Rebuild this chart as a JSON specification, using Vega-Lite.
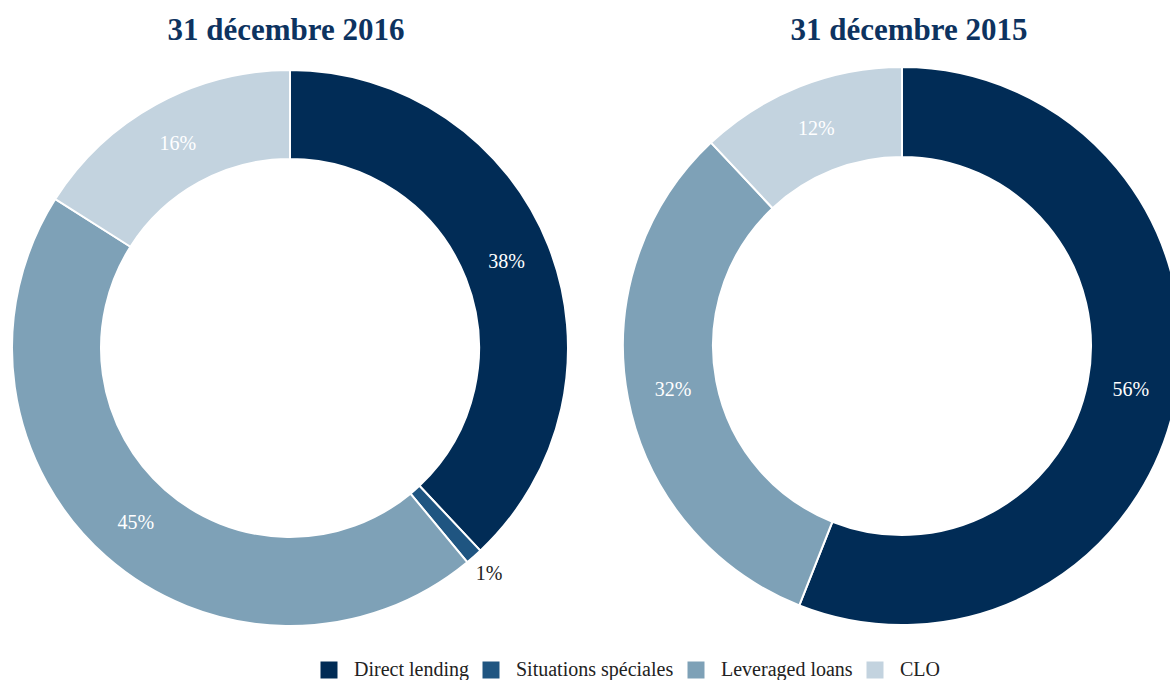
{
  "$schema": "https://vega.github.io/schema/vega-lite/v6.json",
  "padding": {"top": 15, "left": 0, "right": 0, "bottom": 0},
  "datasets": {
    "shares": [
      {"date": "2016", "cat": "Direct lending", "value": 0.38, "rank": 1},
      {"date": "2016", "cat": "Situations spéciales", "value": 0.01, "rank": 2},
      {"date": "2016", "cat": "Leveraged loans", "value": 0.45, "rank": 3},
      {"date": "2016", "cat": "CLO", "value": 0.16, "rank": 4},
      {"date": "2015", "cat": "Direct lending", "value": 0.56, "rank": 1},
      {"date": "2015", "cat": "Leveraged loans", "value": 0.32, "rank": 3},
      {"date": "2015", "cat": "CLO", "value": 0.12, "rank": 4}
    ]
  },
  "config": {
    "view": {"stroke": null},
    "font": "Liberation Serif",
    "concat": {"spacing": 32},
    "title": {"font": "Liberation Serif", "fontSize": 31, "fontWeight": "bold", "color": "#0d3360", "offset": 1, "anchor": "middle"},
    "legend": {
      "orient": "none",
      "legendX": 319,
      "legendY": 612,
      "direction": "horizontal",
      "title": null,
      "symbolType": "square",
      "symbolSize": 289,
      "symbolStrokeWidth": 0,
      "symbolOpacity": 1,
      "labelFont": "Liberation Serif",
      "labelFontSize": 20,
      "labelColor": "#222222",
      "labelOffset": 15,
      "columnPadding": 12,
      "labelLimit": 300
    }
  },
  "hconcat": [
    {
      "width": 580,
      "height": 600,
      "title": {"text": "31 décembre 2016", "dx": -4},
      "data": {"name": "shares"},
      "transform": [{"filter": "datum.date == '2016'"}],
      "encoding": {
        "theta": {"field": "value", "type": "quantitative", "stack": true},
        "order": {"field": "rank", "type": "quantitative"}
      },
      "layer": [
        {
          "mark": {"type": "arc", "innerRadius": 189, "outerRadius": 278, "stroke": "white", "strokeWidth": 2},
          "encoding": {
            "color": {
              "field": "cat", "type": "nominal",
              "scale": {"domain": ["Direct lending", "Situations spéciales", "Leveraged loans", "CLO"], "range": ["#012c56", "#1f5581", "#7ea1b7", "#c3d3df"]},
              "legend": {}
            }
          }
        },
        {
          "mark": {"type": "text", "radius": {"expr": "datum.value < 0.05 ? 301 : 233"}, "fontSize": 20, "font": "Liberation Serif"},
          "encoding": {
            "detail": {"field": "cat", "type": "nominal"},
            "text": {"field": "value", "type": "quantitative", "format": ".0%"},
            "color": {"condition": {"test": "datum.value < 0.05", "value": "#222222"}, "value": "white"}
          }
        }
      ]
    },
    {
      "width": 580,
      "height": 596,
      "title": {"text": "31 décembre 2015", "dx": 7},
      "data": {"name": "shares"},
      "transform": [{"filter": "datum.date == '2015'"}],
      "encoding": {
        "theta": {"field": "value", "type": "quantitative", "stack": true},
        "order": {"field": "rank", "type": "quantitative"}
      },
      "layer": [
        {
          "mark": {"type": "arc", "innerRadius": 189, "outerRadius": 279, "stroke": "white", "strokeWidth": 2},
          "encoding": {
            "color": {
              "field": "cat", "type": "nominal",
              "scale": {"domain": ["Direct lending", "Situations spéciales", "Leveraged loans", "CLO"], "range": ["#012c56", "#1f5581", "#7ea1b7", "#c3d3df"]}
            }
          }
        },
        {
          "mark": {"type": "text", "radius": {"expr": "datum.value < 0.05 ? 301 : 233"}, "fontSize": 20, "font": "Liberation Serif"},
          "encoding": {
            "detail": {"field": "cat", "type": "nominal"},
            "text": {"field": "value", "type": "quantitative", "format": ".0%"},
            "color": {"condition": {"test": "datum.value < 0.05", "value": "#222222"}, "value": "white"}
          }
        }
      ]
    }
  ],
  "resolve": {"scale": {"color": "shared"}}
}
